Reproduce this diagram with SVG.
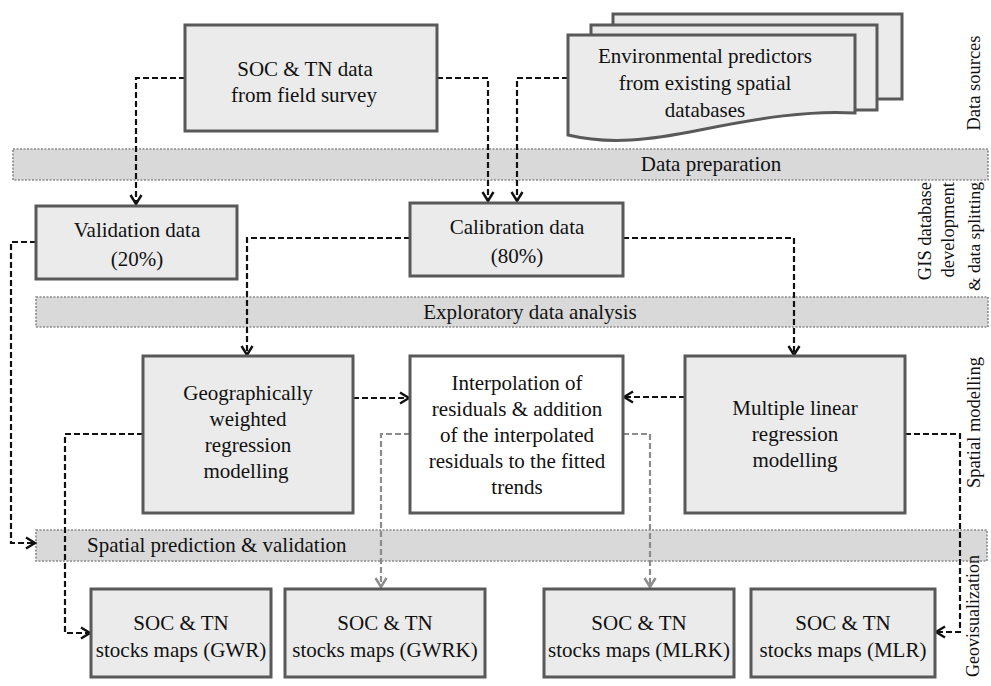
<svg xmlns="http://www.w3.org/2000/svg" width="991" height="686" viewBox="0 0 991 686">
<style>
text{font-family:"Liberation Serif","Times New Roman",serif;font-size:21px;fill:#111;text-anchor:middle}
.side{font-size:18.5px}
.end{text-anchor:end}
.box{fill:#ebebeb;stroke:#595959;stroke-width:3}
.wbox{fill:#fff;stroke:#595959;stroke-width:3}
.band{fill:#d9d9d9;stroke:#8a8a8a;stroke-width:1.6;stroke-dasharray:2 1.5}
.c{fill:none;stroke:#111;stroke-width:2.2;stroke-dasharray:6 3}
.g{fill:none;stroke:#8c8c8c;stroke-width:2.2;stroke-dasharray:6 3}
</style>
<defs>
<marker id="a" markerUnits="userSpaceOnUse" markerWidth="14" markerHeight="16" refX="11" refY="8" orient="auto">
<path d="M2,2.5 L11,8 L2,13.5" fill="none" stroke="#111" stroke-width="2.4"/>
</marker>
<marker id="ag" markerUnits="userSpaceOnUse" markerWidth="14" markerHeight="16" refX="11" refY="8" orient="auto">
<path d="M2,2.5 L11,8 L2,13.5" fill="none" stroke="#8c8c8c" stroke-width="2.4"/>
</marker>
</defs>

<g id="bands">
<rect id="band-prep" class="band" x="13" y="149" width="975" height="31"/>
<rect id="band-eda" class="band" x="36" y="297" width="952" height="30"/>
<rect id="band-pred" class="band" x="36" y="530" width="951" height="31"/>
<text x="711" y="171">Data preparation</text>
<text x="530" y="319">Exploratory data analysis</text>
<text x="87" y="552" style="text-anchor:start">Spatial prediction &amp; validation</text>
</g>

<g id="connectors">
<path class="c" d="M185,78 H136 V204" marker-end="url(#a)"/>
<path class="c" d="M437,78 H488 V201" marker-end="url(#a)"/>
<path class="c" d="M568,78 H517 V201" marker-end="url(#a)"/>
<path class="c" d="M36,242 H11 V543 H35" marker-end="url(#a)"/>
<path class="c" d="M410,238 H247 V355" marker-end="url(#a)"/>
<path class="c" d="M623,238 H794 V355" marker-end="url(#a)"/>
<path class="c" d="M353,398 H409" marker-end="url(#a)"/>
<path class="c" d="M685,397 H624" marker-end="url(#a)"/>
<path class="c" d="M143,434 H65 V633 H90" marker-end="url(#a)"/>
<path class="c" d="M905,434 H960 V632 H936" marker-end="url(#a)"/>
<path class="g" d="M410,434 H381 V587" marker-end="url(#ag)"/>
<path class="g" d="M623,434 H650 V587" marker-end="url(#ag)"/>
</g>

<g id="soc-field">
<rect class="box" x="185" y="25" width="252" height="106"/>
<text x="305" y="76">SOC &amp; TN data</text>
<text x="304" y="102">from field survey</text>
</g>

<g id="env-predictors">
<rect class="box" x="613" y="14" width="289" height="85"/>
<rect class="box" x="591" y="25" width="286" height="85"/>
<path class="box" d="M568,35 H855 V113 C810,110 760,118 700,130 C650,140 610,145 568,135 Z"/>
<text x="705" y="63">Environmental predictors</text>
<text x="705" y="90">from existing spatial</text>
<text x="705" y="117">databases</text>
</g>

<g id="validation">
<rect class="box" x="36" y="206" width="201" height="73"/>
<text x="137" y="237">Validation data</text>
<text x="137" y="266">(20%)</text>
</g>

<g id="calibration">
<rect class="box" x="410" y="203" width="213" height="73"/>
<text x="517" y="234">Calibration data</text>
<text x="517" y="263">(80%)</text>
</g>

<g id="gwr">
<rect class="box" x="143" y="356" width="210" height="157"/>
<text x="248" y="400">Geographically</text>
<text x="248" y="426">weighted</text>
<text x="248" y="452">regression</text>
<text x="246" y="478">modelling</text>
</g>

<g id="interp">
<rect class="wbox" x="410" y="356" width="213" height="157"/>
<text x="517" y="390">Interpolation of</text>
<text x="517" y="416">residuals &amp; addition</text>
<text x="517" y="442">of the interpolated</text>
<text x="517" y="468">residuals to the fitted</text>
<text x="517" y="494">trends</text>
</g>

<g id="mlr">
<rect class="box" x="685" y="356" width="220" height="157"/>
<text x="795" y="415">Multiple linear</text>
<text x="795" y="441">regression</text>
<text x="795" y="467">modelling</text>
</g>

<g id="map-gwr">
<rect class="box" x="91" y="589" width="180" height="88"/>
<text x="181" y="630">SOC &amp; TN</text>
<text x="181" y="657">stocks maps (GWR)</text>
</g>
<g id="map-gwrk">
<rect class="box" x="285" y="589" width="200" height="88"/>
<text x="385" y="630">SOC &amp; TN</text>
<text x="385" y="657">stocks maps (GWRK)</text>
</g>
<g id="map-mlrk">
<rect class="box" x="544" y="589" width="190" height="88"/>
<text x="639" y="630">SOC &amp; TN</text>
<text x="639" y="657">stocks maps (MLRK)</text>
</g>
<g id="map-mlr">
<rect class="box" x="751" y="589" width="184" height="88"/>
<text x="843" y="630">SOC &amp; TN</text>
<text x="843" y="657">stocks maps (MLR)</text>
</g>

<g id="stage-labels">
<text class="side" transform="translate(980,83) rotate(-90)">Data sources</text>
<text class="side end" transform="translate(931,182) rotate(-90)">GIS database</text>
<text class="side end" transform="translate(954,182) rotate(-90)">development</text>
<text class="side end" transform="translate(980,182) rotate(-90)" style="font-size:17.5px">&amp; data splitting</text>
<text class="side end" transform="translate(980,357) rotate(-90)">Spatial modelling</text>
<text class="side end" transform="translate(979,555) rotate(-90)" style="font-size:18px">Geovisualization</text>
</g>
</svg>
